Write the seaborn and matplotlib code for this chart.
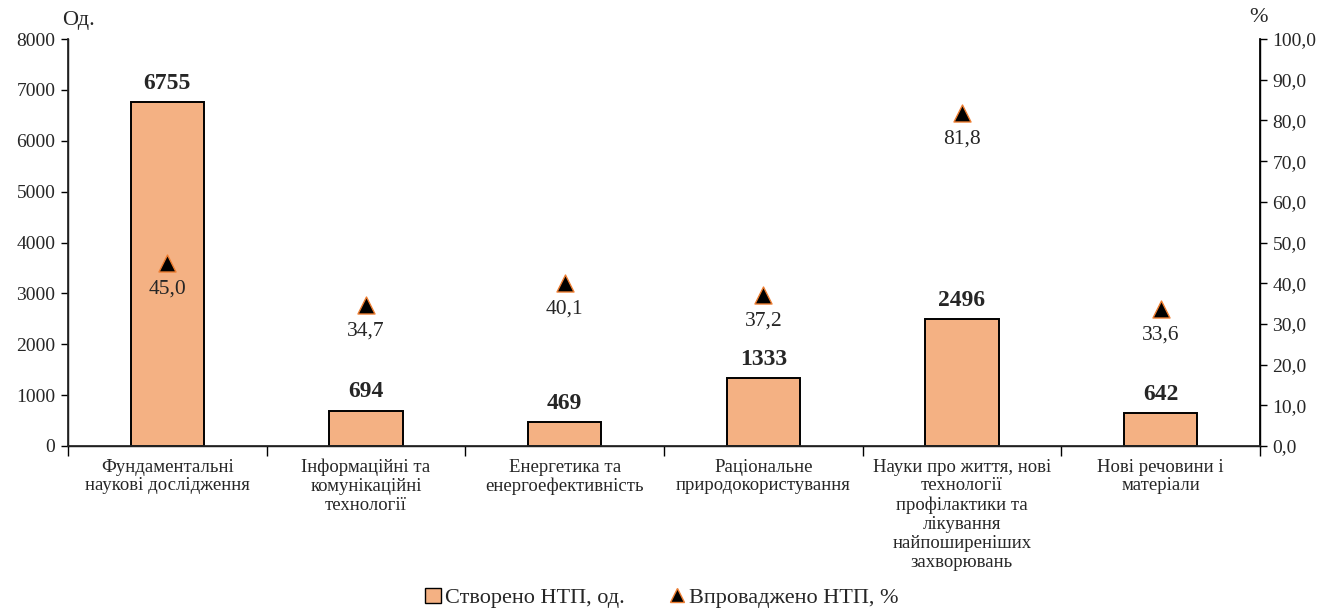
import matplotlib
matplotlib.use("Agg")
import matplotlib.pyplot as plt
import seaborn as sns
import pandas as pd
from matplotlib.lines import Line2D
from matplotlib.patches import Patch

categories = [
    "Фундаментальні\nнаукові дослідження",
    "Інформаційні та\nкомунікаційні\nтехнології",
    "Енергетика та\nенергоефективність",
    "Раціональне\nприродокористування",
    "Науки про життя, нові\nтехнології\nпрофілактики та\nлікування\nнайпоширеніших\nзахворювань",
    "Нові речовини і\nматеріали",
]
created = [6755, 694, 469, 1333, 2496, 642]
implemented = [45.0, 34.7, 40.1, 37.2, 81.8, 33.6]
left_ticks = [0, 1000, 2000, 3000, 4000, 5000, 6000, 7000, 8000]
right_ticks = [0, 10, 20, 30, 40, 50, 60, 70, 80, 90, 100]

sns.set_theme(style="white")
plt.rcParams['font.family'] = ['Liberation Serif', 'DejaVu Serif']

df = pd.DataFrame({"cat": categories, "created": created, "impl": implemented, "pos": range(len(categories))})

fig = plt.figure(figsize=(13.25, 6.11), dpi=100)
ax = fig.add_axes([68/1325, 1-446/611, (1260-68)/1325, (446-39)/611])

bar_color = "#F4B183"
sns.barplot(data=df, x="cat", y="created", ax=ax, color=bar_color, width=0.37,
            edgecolor="black", linewidth=1.4, saturation=1)
ax.set_xlim(-0.5, len(categories)-0.5)
ax.set_ylim(0, 8000)
ax.set_yticks(left_ticks)
ax.set_yticklabels([str(t) for t in left_ticks], fontsize=14)
ax.set_xlabel("")
ax.set_ylabel("")

# Category labels on minor ticks, boundary ticks as major
ax.set_xticks([i - 0.5 for i in range(len(categories)+1)])
ax.set_xticklabels([])
ax.set_xticks(range(len(categories)), minor=True)
ax.set_xticklabels(categories, minor=True, fontsize=13.5, linespacing=1.15, va="top")
ax.tick_params(axis="x", which="minor", length=0, pad=9)
ax.tick_params(axis="x", which="major", length=7, width=1, color="black", direction="out", bottom=True)
ax.tick_params(axis="y", length=5, width=1, color="black", direction="out", left=True, pad=4)

for s in ["top"]:
    ax.spines[s].set_visible(False)
for s in ["left", "bottom", "right"]:
    ax.spines[s].set_color("black")
    ax.spines[s].set_linewidth(1)

for c in ax.containers:
    ax.bar_label(c, labels=[str(v) for v in created], padding=6, fontsize=17, fontweight="bold")

ax2 = ax.twinx()
sns.scatterplot(data=df, x="pos", y="impl", ax=ax2, marker="^", s=150, color="black",
                edgecolor="#ED7D31", linewidth=1, zorder=5, legend=False)
ax2.set_ylim(0, 100)
ax2.set_xlim(-0.5, len(categories)-0.5)
ax2.set_yticks(right_ticks)
ax2.set_yticklabels([f"{t:.1f}".replace(".", ",") for t in right_ticks], fontsize=14)
ax2.tick_params(axis="y", length=5, width=1, color="black", direction="out", right=True, pad=4)
ax2.set_ylabel("")
ax2.set_xlabel("")
ax2.spines["top"].set_visible(False)
ax2.spines["right"].set_color("black")
for x, v in zip(df["pos"], implemented):
    ax2.annotate(f"{v:.1f}".replace(".", ","), (x, v), xytext=(0, -12), textcoords="offset points",
                 ha="center", va="top", fontsize=15.5)

fig.text(62/1325, 1-20/611, "Од.", fontsize=16, va="center", ha="left")
fig.text(1258/1325, 1-18/611, "%", fontsize=16, va="center", ha="center")

handles = [Patch(facecolor=bar_color, edgecolor="black", linewidth=1),
           Line2D([], [], marker="^", linestyle="none", markerfacecolor="black",
                  markeredgecolor="#ED7D31", markersize=10)]
fig.legend(handles, ["Створено НТП, од.", "Впроваджено НТП, %"], loc="center",
           bbox_to_anchor=(662/1325, 1-598/611), ncol=2, frameon=False, fontsize=16,
           handlelength=0.7, handletextpad=0.2, columnspacing=2.0)

fig.savefig("out.png", dpi=100)
